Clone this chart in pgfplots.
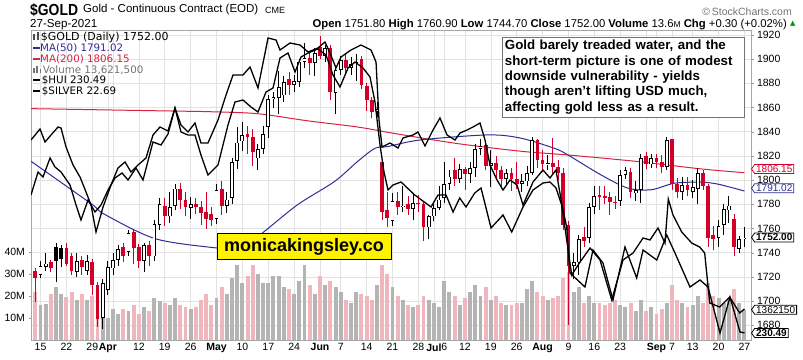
\documentclass[border=0pt]{standalone}
\usepackage{pgfplots}
\pgfplotsset{compat=1.18}
\usepackage{pgfplotstable}
\usepackage{fontspec}
\setmainfont{Liberation Sans}
\newfontfamily\dv{DejaVu Sans}
\usetikzlibrary{shapes.symbols}
\definecolor{cred}{RGB}{210,0,40}
\definecolor{vpink}{RGB}{240,182,190}
\definecolor{vgray}{RGB}{180,180,180}
\definecolor{maA}{RGB}{45,45,150}
\definecolor{maB}{RGB}{215,35,65}
\definecolor{gridc}{RGB}{226,226,226}
\definecolor{upgreen}{RGB}{0,150,0}

\pgfplotstableread{
i o h l c k v
-1 1725 1727 1699 1719 1 22
0 1722 1733 1719 1729 4 16
1 1728 1740 1725 1731 4 16.5
2 1732 1734 1724 1727 1 21
3 1745 1748 1716 1733 3 24
4 1744 1746 1728 1735 3 21
5 1744 1748 1729 1731 1 19.7
6 1737 1740 1722 1725 1 22
7 1724 1740 1720 1733 4 18
8 1734 1737 1722 1728 1 21
9 1725 1738 1722 1733 4 18
10 1732 1735 1705 1713 1 20
11 1713 1716 1679 1685 1 16.5
12 1686 1718 1677 1715 4 19
13 1709 1733 1705 1728 4 10
14 1727 1740 1722 1734 4 14
15 1734 1746 1729 1743 4 12
16 1745 1748 1732 1737 1 14
17 1741 1759 1737 1756 4 13
18 1757 1759 1731 1744 1 16
19 1745 1747 1727 1733 1 12
20 1733 1748 1724 1746 4 15
21 1746 1750 1729 1737 1 13
22 1737 1767 1733 1764 4 19
23 1763 1785 1759 1780 4 17.5
24 1779 1785 1762 1770 1 17
25 1770 1790 1765 1778 4 16
26 1779 1797 1775 1793 4 19
27 1793 1798 1776 1784 1 16
28 1784 1790 1770 1778 1 15
29 1777 1786 1768 1780 4 14
30 1780 1785 1772 1778 1 15
31 1778 1783 1763 1773 1 18
32 1774 1790 1760 1768 1 21
33 1772 1778 1762 1767 1 16
34 1768 1797 1764 1792 4 19
35 1793 1799 1771 1779 1 24
36 1779 1790 1773 1784 4 21
37 1785 1818 1780 1815 4 28
38 1816 1844 1809 1831 4 34
39 1832 1848 1824 1837 4 26
40 1838 1845 1822 1836 1 29
41 1836 1842 1812 1823 1 34
42 1818 1830 1808 1826 4 30
43 1826 1845 1822 1838 4 26
44 1844 1870 1835 1867 4 26
45 1867 1873 1860 1869 4 29
46 1868 1890 1855 1877 4 29
47 1870 1886 1865 1881 4 24
48 1884 1889 1870 1879 1 23
49 1879 1887 1873 1882 4 21
50 1881 1900 1877 1898 4 27
51 1898 1913 1893 1901 4 34
52 1901 1906 1887 1897 1 25
53 1897 1909 1886 1905 4 21
54 1910 1919 1900 1903 1 29
55 1903 1912 1898 1909 4 25
56 1909 1912 1866 1873 1 27
57 1872 1893 1855 1891 4 24
58 1891 1903 1887 1899 4 22
59 1899 1905 1888 1893 1 18
60 1893 1902 1887 1896 4 17
61 1898 1904 1882 1897 3 22
62 1900 1903 1875 1879 1 21
63 1878 1880 1857 1866 1 20
64 1866 1869 1851 1856 1 18
65 1857 1865 1852 1859 4 25
66 1815 1817 1767 1774 1 34
67 1775 1790 1761 1769 1 30
68 1766 1789 1762 1783 4 24
69 1783 1790 1771 1778 1 20
70 1778 1795 1774 1779 4 18
71 1780 1787 1771 1776 1 16
72 1776 1789 1767 1781 4 15
73 1781 1788 1774 1780 1 16
74 1780 1783 1750 1761 1 20
75 1761 1771 1751 1770 4 18
76 1770 1780 1766 1777 4 17
77 1777 1795 1775 1784 4 15
78 1785 1815 1781 1797 4 27
79 1797 1808 1792 1803 4 22
80 1808 1818 1795 1801 1 20
81 1801 1813 1798 1809 4 16
82 1809 1811 1792 1805 1 19
83 1805 1815 1798 1810 4 22
84 1810 1830 1803 1826 4 25
85 1826 1834 1821 1828 4 20
86 1829 1831 1808 1812 1 24
87 1812 1825 1794 1814 4 18
88 1814 1820 1800 1808 1 20
89 1808 1812 1793 1801 1 17
90 1801 1809 1795 1806 4 16
91 1806 1810 1791 1801 1 16
92 1801 1815 1793 1797 1 17
93 1797 1805 1790 1799 4 17
94 1799 1812 1795 1806 4 23
95 1806 1836 1804 1833 4 27
96 1833 1834 1810 1817 1 22
97 1817 1825 1807 1813 1 20
98 1813 1821 1808 1814 4 18
99 1814 1835 1805 1811 1 19
100 1811 1817 1800 1806 1 20
101 1806 1810 1759 1763 1 28
102 1763 1766 1680 1729 1 31
103 1729 1740 1718 1732 4 22
104 1732 1755 1722 1751 4 24
105 1753 1761 1745 1750 1 17
106 1752 1781 1748 1778 4 20
107 1778 1795 1772 1787 4 17
108 1788 1795 1775 1786 1 17
109 1787 1795 1780 1785 1 16
110 1786 1790 1771 1782 1 17
111 1782 1787 1776 1781 1 18
112 1783 1808 1779 1804 4 16
113 1804 1811 1801 1808 4 15
114 1807 1810 1785 1790 1 17
115 1789 1799 1783 1792 4 13
116 1792 1822 1781 1818 4 18
117 1820 1823 1809 1813 1 13
118 1813 1822 1810 1818 4 15
119 1818 1822 1810 1815 1 12
120 1815 1821 1806 1811 1 14
121 1811 1836 1808 1833 4 17
122 1834 1834 1792 1797 1 25
123 1797 1802 1785 1790 1 18
124 1790 1803 1784 1796 4 17
125 1796 1803 1787 1792 1 15
126 1790 1800 1785 1794 4 16
127 1793 1810 1780 1806 4 20
128 1806 1808 1792 1795 1 17
129 1795 1797 1745 1752 1 26
130 1755 1762 1742 1751 1 20
131 1752 1767 1745 1762 4 19
132 1763 1780 1755 1776 4 17
133 1775 1787 1765 1779 4 19
134 1768 1772 1737 1745 1 23
135 1743 1754 1740 1751 4 17
136 1751.8 1760.9 1744.7 1752 4 13.62
}\gold

\pgfplotstableread{
i ma
-1.84 1815.6
9.6 1781.1
12.4 1771.7
22.1 1751.7
33.3 1744.3
37.6 1743.9
41.4 1752.2
43.3 1757.8
49.7 1779.8
56.8 1798.9
61.3 1815.6
64.6 1826.3
67.1 1827.8
73.5 1833.3
86.5 1837.4
92.8 1834.7
99.3 1826.3
101.9 1820.8
108.3 1804.3
113.5 1793.4
118.0 1792.1
122.5 1797.5
127.6 1798.3
130.9 1796.7
136.0 1791.02
}\mafifty

\pgfplotstableread{
i ma
-1.84 1859.1
26.0 1857.1
33.3 1856.5
42.0 1854.9
51.7 1849.0
61.3 1843.9
68.1 1838.8
80.1 1830.5
92.8 1823.9
101.9 1820.8
114.9 1815.6
127.6 1809.3
136.0 1806.15
}\matwohundred

\pgfplotstableread{
i v
-1.84 298.0
-0.10 301.85
0.87 297.3
2.03 299.75
3.38 302.55
3.96 302.2
4.93 295.55
6.28 289.25
7.63 285.05
8.79 279.8
9.76 275.25
10.72 265.8
12.08 274.55
13.62 282.25
14.97 288.2
16.33 290.3
17.48 286.8
18.84 289.25
20.38 291.7
21.73 299.75
23.08 302.55
24.63 301.15
25.98 309.2
27.14 303.25
28.49 300.8
29.84 303.95
31.00 296.95
32.35 296.95
34.29 305.0
35.84 313.75
37.19 320.75
39.12 320.75
40.48 323.55
42.02 316.2
43.96 333.7
45.50 333.0
46.27 329.5
48.20 331.95
50.14 331.25
51.68 328.8
53.61 330.2
54.96 332.3
55.93 328.45
57.09 323.2
58.05 327.05
59.99 329.5
61.92 331.25
63.85 329.5
64.82 325.3
65.40 305.0
65.98 295.55
67.52 296.95
69.07 295.2
70.03 298.7
71.96 299.75
72.93 300.8
74.28 295.9
75.83 301.5
77.18 305.7
78.54 299.75
80.08 298.0
81.05 300.45
82.40 301.5
83.56 302.55
84.91 303.95
85.88 298.0
86.84 289.25
88.20 284.0
89.36 280.5
90.71 284.0
92.06 282.25
93.22 275.25
95.15 283.3
97.08 287.5
98.43 284.7
99.59 287.5
100.75 275.25
101.66 267.55
102.29 251.45
105.19 246.55
106.74 259.5
108.67 254.95
110.60 242.0
112.92 260.55
115.18 249.7
116.41 259.5
119.06 256.0
120.99 264.75
122.58 258.45
125.48 246.55
127.41 249.0
128.96 246.55
131.28 230.45
133.21 243.05
135.14 230.8
136.0 230.49
}\hui

\pgfplotstableread{
i v
-1.84 24.97
-0.48 25.43
0.48 25.33
1.84 25.71
2.80 25.53
3.96 25.43
5.70 25.17
6.86 24.77
7.82 24.47
9.18 24.87
10.53 24.63
11.69 24.77
13.04 25.07
14.39 25.31
15.75 25.41
16.91 25.27
18.45 25.51
19.80 25.27
21.73 26.03
23.28 25.97
24.63 26.19
25.98 26.71
27.14 26.23
28.49 26.17
29.84 26.17
31.00 25.77
32.35 25.37
34.29 25.57
36.22 26.37
37.57 26.83
39.12 26.87
40.66 26.73
42.02 26.63
43.57 27.03
44.92 27.11
46.27 27.71
47.82 27.81
49.17 27.43
50.33 27.73
51.68 27.81
53.61 27.89
55.16 27.77
56.51 27.37
57.86 27.13
59.41 27.51
60.76 27.63
62.31 27.51
63.66 27.33
64.62 26.83
65.59 25.97
66.36 25.43
67.14 25.07
68.10 25.17
69.65 25.23
72.30 24.97
75.45 24.73
76.80 24.97
78.35 24.97
79.70 24.63
80.99 24.91
82.21 24.73
83.89 25.01
85.11 25.11
87.04 24.31
89.36 24.57
91.04 24.23
93.22 24.73
95.15 25.07
97.08 25.21
98.43 25.23
99.59 25.11
100.69 24.77
102.63 23.37
104.24 23.63
106.17 23.91
108.10 23.67
110.36 22.87
112.54 23.67
114.48 23.81
116.41 24.11
117.76 24.07
119.30 24.31
120.65 24.01
121.29 24.89
122.20 24.57
123.88 24.23
125.81 24.01
127.35 23.93
128.32 23.81
129.29 22.81
131.22 22.73
133.15 22.93
135.08 22.61
136.0 22.69
}\silver

\tikzset{tl/.style={font=\fontsize{10.5}{12}\selectfont}}
\pgfplotsset{base/.style={at={(31pt,19pt)}, anchor=south west, scale only axis,
    width=720pt, height=310pt, xmin=-1.84, xmax=137.27}}

% candle segments: #1 = condition, #2 = y start, #3 = length, #4 = colour, #5 = width
\newcommand{\seg}[5]{%
\addplot[forget plot, draw=none, mark=none, mark options={draw=none, fill=none},
  error bars/.cd, y dir=plus, y explicit, error mark=none,
  error bar style={draw=#4, line width=#5, line cap=butt}]
  table[x expr={(#1) ? \thisrow{i} : -150}, y expr={#2}, y error expr={#3}] {\gold};}

\begin{document}
\begin{tikzpicture}
\useasboundingbox (0,0) rectangle (803pt,359pt);
% background axis: grid, frame, x labels, right price labels
\begin{axis}[base, ymin=1667.9, ymax=1924.1,
  axis line style={draw=black!35},
  xtick={0,5,10,13,14,19,24,29,34,39,44,49,54,58,63,68,73,76,78,82,87,92,97,102,107,112,117,119,122,126,131,136},
  xticklabels={15,22,29,\textbf{Apr},,12,19,26,\textbf{May},10,17,24,\textbf{Jun},7,14,21,28,\textbf{Jul},6,12,19,26,\textbf{Aug},9,16,23,,\textbf{Sep},7,13,20,27},
  ytick={1680,1700,1720,1740,1760,1780,1800,1820,1840,1860,1880,1900,1920},
  yticklabels={1680,1700,1720,1740,1760,1780,1800,1820,1840,1860,1880,1900,1920},
  ytick pos=right, xtick pos=bottom,
  xmajorgrids, ymajorgrids, grid style={draw=gridc, line width=0.6pt},
  xticklabel style={tl, yshift=2.5pt}, yticklabel style={tl},
  major x tick style={draw=none}, major y tick style={draw=black!40},
  tick align=outside, major tick length=2.5pt]
\addplot[draw=none, forget plot] coordinates {(0,1800)};
\end{axis}
% volume
\begin{axis}[base, ymin=0, ymax=140.9, axis line style={draw=none},
  xtick=\empty, ytick={10,20,30,40}, yticklabels={10M,20M,30M,40M},
  ytick pos=left, yticklabel style={tl},
  major y tick style={draw=black!40}, tick align=outside, major tick length=2.5pt]
\addplot[ycomb, draw=vpink, line width=3.9pt, mark=none] table[x expr={\thisrow{k}<2.5 ? \thisrow{i} : -150}, y=v]{\gold};
\addplot[ycomb, draw=vgray, line width=3.9pt, mark=none] table[x expr={\thisrow{k}>2.5 ? \thisrow{i} : -150}, y=v]{\gold};
\end{axis}
% price: MAs and candles
\begin{axis}[base, ymin=1667.9, ymax=1924.1, axis line style={draw=black!35},
  xtick=\empty, ytick=\empty]
\addplot[maB, line width=1pt, smooth] table[x=i,y=ma]{\matwohundred};
\addplot[maA, line width=1pt, smooth] table[x=i,y=ma]{\mafifty};
\seg{\thisrow{k}<2.5}{\thisrow{l}}{\thisrow{h}-\thisrow{l}}{cred}{0.9pt}
\seg{\thisrow{k}>2.5}{\thisrow{l}}{\thisrow{h}-\thisrow{l}}{black}{0.9pt}
\seg{\thisrow{k}==1}{min(\thisrow{o},\thisrow{c})}{max(abs(\thisrow{c}-\thisrow{o}),0.8)}{cred}{3.8pt}
\seg{\thisrow{k}==3}{min(\thisrow{o},\thisrow{c})}{max(abs(\thisrow{c}-\thisrow{o}),0.8)}{black}{3.8pt}
\seg{\thisrow{k}==4}{min(\thisrow{o},\thisrow{c})}{max(abs(\thisrow{c}-\thisrow{o}),0.8)}{black}{3.8pt}
\seg{\thisrow{k}==4}{min(\thisrow{o},\thisrow{c})+0.7}{max(abs(\thisrow{c}-\thisrow{o})-1.4,0.05)}{white}{2.1pt}
\end{axis}
% HUI
\begin{axis}[base, hide axis, ymin=228, ymax=336.5]
\addplot[black, line width=1.3pt, mark=none] table[x=i,y=v]{\hui};
\end{axis}
% SILVER
\begin{axis}[base, hide axis, ymin=22.07, ymax=28.27]
\addplot[black, line width=1.3pt, mark=none] table[x=i,y=v]{\silver};
\end{axis}

% header
\node[anchor=west, inner sep=0, xscale=0.87, font=\bfseries\fontsize{16}{16}\selectfont] at (30pt,349pt) {\$GOLD};
\node[anchor=west, inner sep=0, font=\fontsize{11.5}{12}\selectfont] at (83pt,349pt) {Gold - Continuous Contract (EOD)};
\node[anchor=west, inner sep=0, font=\fontsize{9}{12}\selectfont] at (265pt,348.5pt) {CME};
\node[anchor=west, inner sep=0, font=\fontsize{11.6}{12}\selectfont] at (30pt,334pt) {27-Sep-2021};
\node[anchor=east, inner sep=0, font=\fontsize{11.3}{12}\selectfont] at (787pt,334pt)
  {\textbf{Open} 1751.80 \textbf{High} 1760.90 \textbf{Low} 1744.70 \textbf{Close} 1752.00 \textbf{Volume} 13.6{\fontsize{8.5}{9}\selectfont M} \textbf{Chg} +0.30 (+0.02\%)};
\node[anchor=west, inner sep=0, text=upgreen, font=\dv\fontsize{7}{8}\selectfont] at (790pt,335pt) {▲};
\node[anchor=east, inner sep=0, text=black!55, font=\fontsize{10.5}{12}\selectfont] at (792pt,347.5pt) {\copyright\,StockCharts.com};

% legend
\node[anchor=west, inner sep=0, font=\dv\fontsize{11}{12}\selectfont] at (33pt,322pt) {\textcolor{black!70}{\rule{2pt}{6pt}\,\rule{2pt}{8pt}}\,\$GOLD (Daily) 1752.00};
\node[anchor=west, inner sep=0, text=maA, font=\dv\fontsize{10.3}{11}\selectfont] at (33pt,311pt) {\rule[2.5pt]{7pt}{1.6pt}MA(50) 1791.02};
\node[anchor=west, inner sep=0, text=maB, font=\dv\fontsize{10.3}{11}\selectfont] at (33pt,300pt) {\rule[2.5pt]{7pt}{1.6pt}MA(200) 1806.15};
\node[anchor=west, inner sep=0, text=black!55, font=\dv\fontsize{10.3}{11}\selectfont] at (33pt,289pt) {\rule{1.5pt}{5pt}\,\rule{1.5pt}{7pt}\,\rule{1.5pt}{4pt}\,Volume 13,621,500};
\node[anchor=west, inner sep=0, font=\dv\fontsize{10.3}{11}\selectfont] at (33pt,278.5pt) {\rule[2.5pt]{7pt}{1.8pt}\,\$HUI 230.49};
\node[anchor=west, inner sep=0, font=\dv\fontsize{10.3}{11}\selectfont] at (33pt,268pt) {\rule[2.5pt]{7pt}{1.8pt}\,\$SILVER 22.69};

% value tags
\tikzset{tag/.style={signal, signal to=west, signal pointer angle=110, fill=white, line width=0.8pt, inner xsep=1.5pt, inner ysep=1pt, anchor=west, font=\fontsize{10}{11}\selectfont}}
\node[tag, draw=cred, text=cred] at (751pt,190pt) {1806.15};
\node[tag, draw=maA, text=maA] at (751pt,170.7pt) {1791.02};
\node[tag, draw=black, font=\bfseries\fontsize{10}{11}\selectfont] at (751pt,121.5pt) {1752.00};
\node[tag, draw=black] at (751pt,49.3pt) {1362150};
\node[tag, draw=black, font=\bfseries\fontsize{10}{11}\selectfont] at (751pt,26pt) {230.49};

% logo
\node[draw=black, fill=yellow, line width=1pt, minimum width=174pt, minimum height=26pt, inner sep=0, font=\bfseries\fontsize{18}{18}\selectfont] at (304pt,112pt) {monicakingsley.co};

% comment box
\node[draw=black!55, fill=white, line width=0.8pt, anchor=north west, align=left, text width=236pt, inner xsep=3pt, inner ysep=3pt, font=\bfseries\fontsize{13.3}{15.4}\selectfont] at (501.5pt,322.3pt)
 {Gold barely treaded water, and the\\short-term picture is one of modest\\downside vulnerability - yields\\though aren't lifting USD much,\\affecting gold less as a result.};
\end{tikzpicture}
\end{document}
